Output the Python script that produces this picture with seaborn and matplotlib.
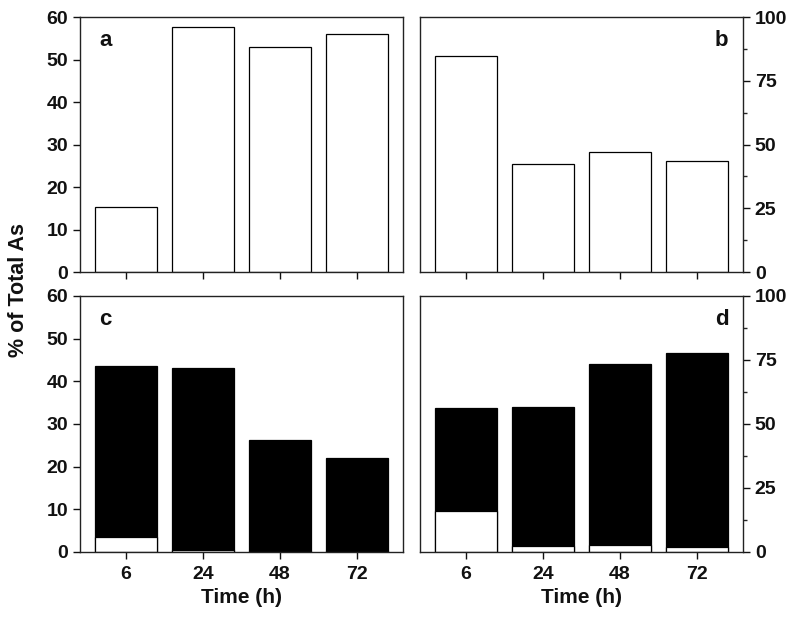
import matplotlib
matplotlib.use("Agg")
import matplotlib.pyplot as plt
import seaborn as sns
import pandas as pd
import numpy as np
from matplotlib.ticker import MultipleLocator

sns.set_theme(style="ticks")
plt.rcParams['font.family'] = ['Liberation Sans', 'DejaVu Sans']
plt.rcParams['font.weight'] = 'bold'
plt.rcParams['text.color'] = '#111111'
plt.rcParams['axes.labelcolor'] = '#111111'

times = ["6", "24", "48", "72"]
panel_a = [15.4, 57.6, 52.9, 56.1]
panel_b = [84.6, 42.4, 47.0, 43.7]
panel_c_total = [43.6, 43.1, 26.3, 22.0]
panel_c_white = [3.4, 0.4, 0.2, 0.2]
panel_d_total = [56.1, 56.5, 73.3, 77.7]
panel_d_white = [16.2, 2.3, 2.9, 2.1]

fig = plt.figure(figsize=(8, 6.23), dpi=100)
W, H = 800, 623
def rect(l, t, r, b):
    return [l / W, 1 - b / H, (r - l) / W, (b - t) / H]

ax_a = fig.add_axes(rect(80, 17, 403, 272))
ax_b = fig.add_axes(rect(420, 17, 743, 272))
ax_c = fig.add_axes(rect(80, 296, 403, 552))
ax_d = fig.add_axes(rect(420, 296, 743, 552))

def bars(ax, vals, color):
    df = pd.DataFrame({"t": times, "v": vals})
    sns.barplot(data=df, x="t", y="v", ax=ax, color=color, edgecolor="black",
                linewidth=0.9, width=0.8, errorbar=None, saturation=1)

bars(ax_a, panel_a, "white")
bars(ax_b, panel_b, "white")
bars(ax_c, panel_c_total, "black")
bars(ax_c, panel_c_white, "white")
bars(ax_d, panel_d_total, "black")
bars(ax_d, panel_d_white, "white")

for ax, letter, right in [(ax_a, "a", False), (ax_b, "b", True),
                          (ax_c, "c", False), (ax_d, "d", True)]:
    ax.set_xlim(-0.6, 3.6)
    ax.set_xlabel("")
    ax.set_ylabel("")
    for s in ax.spines.values():
        s.set_visible(True)
        s.set_linewidth(1.0)
        s.set_color("#222222")
    ax.tick_params(axis="both", direction="out", length=5, width=1,
                   labelsize=14, colors="#111111")
    if right:
        ax.set_ylim(0, 100)
        ax.yaxis.set_major_locator(MultipleLocator(25))
        ax.yaxis.set_minor_locator(MultipleLocator(12.5))
        ax.yaxis.tick_right()
        ax.tick_params(axis="y", which="minor", length=3, width=1)
        ax.text(0.955, 0.95, letter, transform=ax.transAxes, ha="right",
                va="top", fontsize=16, fontweight="bold")
    else:
        ax.set_ylim(0, 60)
        ax.yaxis.set_major_locator(MultipleLocator(10))
        ax.text(0.06, 0.95, letter, transform=ax.transAxes, ha="left",
                va="top", fontsize=16, fontweight="bold")
    for lab in ax.get_yticklabels() + ax.get_xticklabels():
        lab.set_fontweight("bold")

for ax in (ax_a, ax_b):
    ax.set_xticklabels([])
for ax in (ax_c, ax_d):
    ax.set_xlabel("Time (h)", fontsize=15, fontweight="bold", labelpad=4)
    ax.tick_params(axis="x", pad=5)

fig.text(19 / W, 1 - 290 / H, "% of Total As", rotation=90, ha="center",
         va="center", fontsize=15.5, fontweight="bold")

fig.savefig("out.png", dpi=100, facecolor="white")
